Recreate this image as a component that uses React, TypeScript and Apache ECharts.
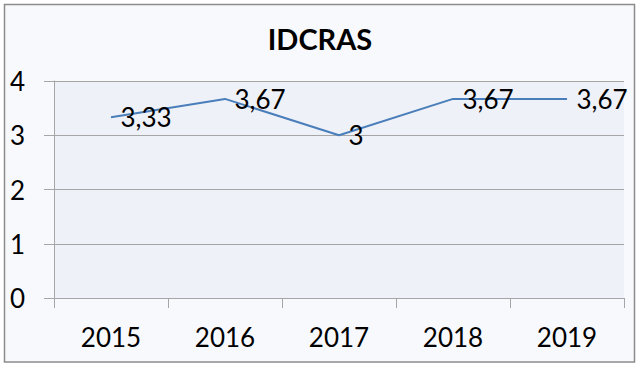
import React, { useEffect, useRef } from "react";
import * as echarts from "echarts";

const categories = ["2015", "2016", "2017", "2018", "2019"];
const values = [3.33, 3.67, 3, 3.67, 3.67];
const yMin = 0;
const yMax = 4;
const yInterval = 1;
const titleText = "IDCRAS";

const FONT = "Lato, 'Open Sans', sans-serif";

export default function App() {
  const ref = useRef<HTMLDivElement>(null);
  useEffect(() => {
    if (!ref.current) return;
    const chart = echarts.init(ref.current, undefined, { renderer: "svg" });
    const gray = "#a6a6a6";
    chart.setOption({
      animation: false,
      backgroundColor: "#ffffff",
      graphic: [
        {
          type: "rect",
          z: -10,
          silent: true,
          shape: { x: 4.5, y: 4.5, width: 630, height: 357.5 },
          style: { fill: "#f8f9fc", stroke: "#8c8c8c", lineWidth: 1.5 },
        },
      ],
      title: {
        text: titleText,
        left: "center",
        top: 19,
        textStyle: {
          fontFamily: FONT,
          fontWeight: "bold",
          fontSize: 29,
          color: "#000",
        },
      },
      grid: {
        left: 54,
        right: 16,
        top: 81,
        bottom: 67,
        show: true,
        backgroundColor: "#eef1f7",
        borderWidth: 0,
      },
      xAxis: {
        type: "category",
        data: categories,
        boundaryGap: true,
        axisLine: { show: true, lineStyle: { color: gray, width: 1 } },
        axisTick: { show: true, length: 10, lineStyle: { color: gray } },
        axisLabel: {
          fontFamily: FONT,
          fontSize: 26,
          color: "#000",
          margin: 26,
        },
        splitLine: { show: false },
      },
      yAxis: {
        type: "value",
        min: yMin,
        max: yMax,
        interval: yInterval,
        axisLine: { show: true, lineStyle: { color: gray, width: 1 } },
        axisTick: { show: true, length: 10, lineStyle: { color: gray } },
        axisLabel: {
          fontFamily: FONT,
          fontSize: 26,
          color: "#000",
          margin: 29,
        },
        splitLine: { show: true, lineStyle: { color: gray, width: 1 } },
      },
      series: [
        {
          type: "line",
          data: values,
          symbol: "circle",
          symbolSize: 1,
          showSymbol: true,
          itemStyle: { color: "rgba(74,126,187,0)" },
          lineStyle: { color: "#4a7ebb", width: 2 },
          label: {
            show: true,
            position: "right",
            distance: 9,
            fontFamily: FONT,
            fontSize: 26,
            color: "#000",
            formatter: (p: any) => String(p.value).replace(".", ","),
          },
        },
      ],
    });
    return () => chart.dispose();
  }, []);
  return (
    <div
      ref={ref}
      style={{ position: "fixed", left: 0, top: 0, width: 640, height: 365 }}
    />
  );
}
